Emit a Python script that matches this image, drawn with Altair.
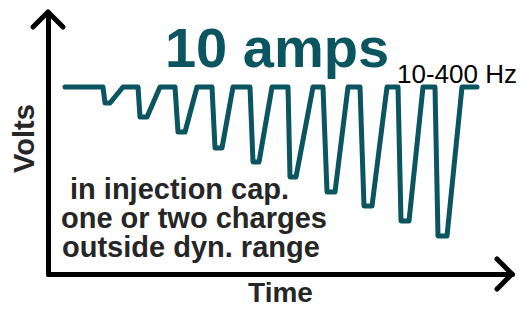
import altair as alt
import pandas as pd

# Waveform (time, volts)
wave_t = [17, 55, 57, 62, 75, 90, 92, 99, 112, 127, 130, 137, 149, 164, 167, 174, 185,
          202, 205, 211, 224, 240, 242, 248, 265, 275, 279, 287, 300, 312, 316, 324, 339,
          350, 353, 361, 375, 387, 390, 399, 414, 429]
wave_v = [187, 187, 171, 171, 187, 187, 157, 157, 187, 187, 142, 142, 187, 187, 126, 126, 187,
          187, 112, 112, 187, 187, 97, 97, 187, 187, 82, 82, 187, 187, 68, 68, 187,
          187, 53, 53, 187, 187, 38, 38, 187, 187]

# Axis arrow heads at the ends of the axes
arrow_t = [0, 464]
arrow_v = [262, 0]
arrow_angle = [0, 90]

# Annotations
note_lines = ["in injection cap.", "one or two charges", "outside dyn. range"]
note_t = [22, 13, 14]
note_v = [75, 46, 17]

title_text = ["10 amps"]
title_t = [229]
title_v = [207]

freq_text = ["10-400 Hz"]
freq_t = [349]
freq_v = [191]

TEAL = "#0a5560"
DARK = "#262626"
FONT = "Liberation Sans"

wave = pd.DataFrame({"t": wave_t, "v": wave_v, "i": list(range(len(wave_t)))})
arrows = pd.DataFrame({"t": arrow_t, "v": arrow_v, "a": arrow_angle})
notes = pd.DataFrame({"t": note_t, "v": note_v, "s": note_lines})
titles = pd.DataFrame({"t": title_t, "v": title_v, "s": title_text})
freqs = pd.DataFrame({"t": freq_t, "v": freq_v, "s": freq_text})

xs = alt.Scale(domain=[0, 464], nice=False, zero=False)
ys = alt.Scale(domain=[0, 262], nice=False, zero=False)

x_axis = alt.Axis(title="Time", ticks=False, labels=False, grid=False,
                  domainColor="black", domainWidth=5, domainCap="round",
                  titleFont=FONT, titleFontSize=28, titleFontWeight="bold",
                  titleColor=DARK, titleX=232, titleY=27, titleAlign="center",
                  titleBaseline="alphabetic")
y_axis = alt.Axis(title="Volts", ticks=False, labels=False, grid=False,
                  domainColor="black", domainWidth=5, domainCap="round",
                  titleFont=FONT, titleFontSize=29, titleFontWeight="bold",
                  titleColor=DARK, titleX=-15, titleY=126, titleAlign="center",
                  titleAngle=270, titleBaseline="alphabetic")

line = alt.Chart(wave).mark_line(
    color=TEAL, strokeWidth=5, strokeJoin="round", strokeCap="round"
).encode(
    x=alt.X("t:Q", scale=xs, axis=x_axis),
    y=alt.Y("v:Q", scale=ys, axis=y_axis),
    order="i:Q",
)

heads = alt.Chart(arrows).mark_point(
    shape="M-1,1L0,0L1,1", size=900, filled=False, stroke="black",
    strokeWidth=5, strokeJoin="round", strokeCap="round", opacity=1
).encode(
    x=alt.X("t:Q", scale=xs),
    y=alt.Y("v:Q", scale=ys),
    angle=alt.Angle("a:Q", scale=None),
)

note = alt.Chart(notes).mark_text(
    font=FONT, fontSize=29, fontWeight="bold", color=DARK,
    align="left", baseline="alphabetic"
).encode(x=alt.X("t:Q", scale=xs), y=alt.Y("v:Q", scale=ys), text="s:N")

ttl = alt.Chart(titles).mark_text(
    font=FONT, fontSize=56, fontWeight="bold", color=TEAL,
    align="center", baseline="alphabetic"
).encode(x=alt.X("t:Q", scale=xs), y=alt.Y("v:Q", scale=ys), text="s:N")

frq = alt.Chart(freqs).mark_text(
    font=FONT, fontSize=26, color="black",
    align="left", baseline="alphabetic"
).encode(x=alt.X("t:Q", scale=xs), y=alt.Y("v:Q", scale=ys), text="s:N")

chart = alt.layer(line, heads, note, ttl, frq).properties(
    width=464, height=262,
    padding={"left": 40, "top": 4, "right": 6, "bottom": 29},
    autosize=alt.AutoSizeParams(type="none"),
    background="white",
).configure_view(stroke=None)

chart.save("out.html", embed_options={"renderer": "svg", "actions": False})
